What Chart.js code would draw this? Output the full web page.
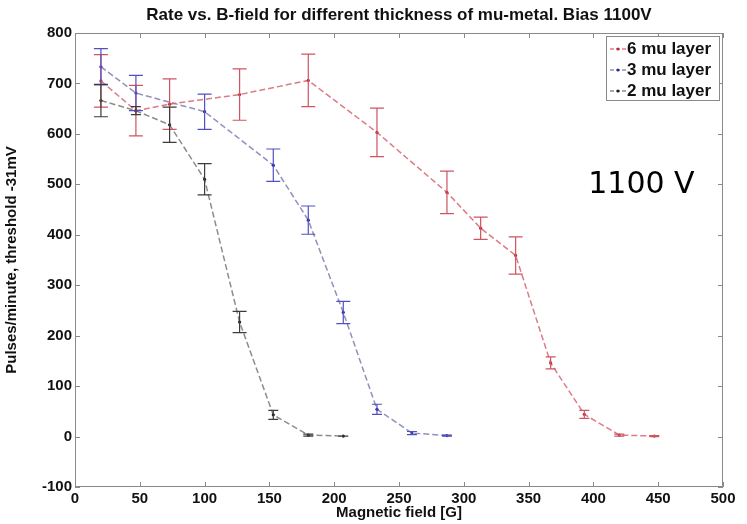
<!DOCTYPE html>
<html lang="en">
<head>
    <meta charset="UTF-8">
    <title>Rate vs. B-field</title>
    <script src="https://cdn.jsdelivr.net/npm/chart.js"></script>
    <style>
        html, body { margin: 0; padding: 0; background: white; }
        #wrap { width: 747px; height: 524px; }
    </style>
</head>
<body>
<div id="wrap"><canvas id="chart"></canvas></div>
<script>
// magnetic field [G] and rates for each mu-metal thickness
const field6 = [20, 47, 73, 127, 180, 233, 287, 313, 340, 367, 393, 420, 447];
const rate6  = [705, 646, 659, 678, 706, 603, 484, 413, 359, 146, 44, 3, 1];
const err6   = [52, 50, 50, 51, 52, 48, 42, 22, 37, 12, 8, 2, 1];

const field3 = [20, 47, 100, 153, 180, 207, 233, 260, 287];
const rate3  = [733, 681, 644, 538, 429, 246, 54, 7, 2];
const err3   = [36, 35, 35, 32, 28, 22, 10, 3, 1];

const field2 = [20, 47, 73, 100, 127, 153, 180, 207];
const rate2  = [666, 646, 618, 510, 227, 43, 3, 1];
const err2   = [32, 8, 35, 31, 21, 9, 2, 0];

const seriesNames = ['6 mu layer', '3 mu layer', '2 mu layer'];
const xTicks = [0, 50, 100, 150, 200, 250, 300, 350, 400, 450, 500];
const yTicks = [-100, 0, 100, 200, 300, 400, 500, 600, 700, 800];

const FONT = "'Liberation Sans', Arial, Helvetica, sans-serif";

function pts(xs, ys) {
    return xs.map((x, i) => ({ x: x, y: ys[i] }));
}

// error bars, drawn through the scales
const errorBars = {
    id: 'errorBars',
    afterDatasetsDraw(chart) {
        const ctx = chart.ctx;
        const xs = chart.scales.x, ys = chart.scales.y;
        chart.data.datasets.forEach(ds => {
            ctx.save();
            ctx.strokeStyle = ds.errColor;
            ctx.lineWidth = 1.2;
            ds.data.forEach((p, i) => {
                const e = ds.errors[i];
                const px = xs.getPixelForValue(p.x);
                const top = ys.getPixelForValue(p.y + e);
                const bot = ys.getPixelForValue(p.y - e);
                const cap = e > 15 ? 7 : 5;
                ctx.beginPath();
                ctx.moveTo(px, top); ctx.lineTo(px, bot);
                ctx.moveTo(px - cap, top); ctx.lineTo(px + cap, top);
                ctx.moveTo(px - cap, bot); ctx.lineTo(px + cap, bot);
                ctx.stroke();
            });
            ctx.restore();
        });
    }
};

// matlab style box with inward ticks, legend box and the 1100 V note
const frame = {
    id: 'frame',
    afterDraw(chart) {
        const ctx = chart.ctx;
        const a = chart.chartArea;
        const xs = chart.scales.x, ys = chart.scales.y;
        ctx.save();
        ctx.strokeStyle = '#8a8a8a';
        ctx.lineWidth = 1;
        ctx.strokeRect(a.left + 0.5, a.top + 0.5, a.right - a.left - 1, a.bottom - a.top - 1);
        ctx.beginPath();
        xTicks.forEach(v => {
            const px = Math.round(xs.getPixelForValue(v)) + 0.5;
            ctx.moveTo(px, a.bottom); ctx.lineTo(px, a.bottom - 5);
            ctx.moveTo(px, a.top); ctx.lineTo(px, a.top + 5);
        });
        yTicks.forEach(v => {
            const py = Math.round(ys.getPixelForValue(v)) + 0.5;
            ctx.moveTo(a.left, py); ctx.lineTo(a.left + 5, py);
            ctx.moveTo(a.right, py); ctx.lineTo(a.right - 5, py);
        });
        ctx.stroke();

        // legend
        const lx = a.right - 117, ly = a.top + 3, lw = 113, lh = 64;
        ctx.fillStyle = 'white';
        ctx.fillRect(lx, ly, lw, lh);
        ctx.strokeStyle = '#8a8a8a';
        ctx.strokeRect(lx + 0.5, ly + 0.5, lw, lh);
        ctx.font = 'bold 17px ' + FONT;
        ctx.textBaseline = 'middle';
        chart.data.datasets.forEach((ds, i) => {
            const ry = ly + 13 + i * 21;
            ctx.strokeStyle = ds.borderColor;
            ctx.lineWidth = 1.3;
            ctx.setLineDash([4, 2]);
            ctx.beginPath();
            ctx.moveTo(lx + 4, ry); ctx.lineTo(lx + 21, ry);
            ctx.stroke();
            ctx.setLineDash([]);
            ctx.fillStyle = ds.pointBackgroundColor;
            ctx.beginPath();
            ctx.arc(lx + 12, ry, 1.5, 0, Math.PI * 2);
            ctx.fill();
            ctx.fillStyle = '#111';
            ctx.fillText(ds.label, lx + 21, ry);
        });

        // bias note, anchored in data coordinates
        ctx.font = "30px 'DejaVu Sans', Verdana, sans-serif";
        ctx.fillStyle = '#000';
        ctx.textBaseline = 'alphabetic';
        ctx.fillText('1100 V', xs.getPixelForValue(396), ys.getPixelForValue(483));
        ctx.restore();
    }
};

function series(label, xsArr, ysArr, errs, line, mark, errColor) {
    return {
        label: label,
        data: pts(xsArr, ysArr),
        errors: errs,
        errColor: errColor,
        borderColor: line,
        borderWidth: 1.5,
        borderDash: [6, 3],
        pointRadius: 1.6,
        pointBackgroundColor: mark,
        pointBorderColor: mark,
        pointBorderWidth: 0,
        fill: false,
        tension: 0
    };
}

new Chart(document.getElementById('chart'), {
    type: 'line',
    data: {
        datasets: [
            series(seriesNames[0], field6, rate6, err6, 'rgba(214,100,112,0.85)', 'rgb(190,40,50)', 'rgb(206,84,96)'),
            series(seriesNames[1], field3, rate3, err3, 'rgba(125,125,175,0.85)', 'rgb(40,40,170)', 'rgb(80,80,195)'),
            series(seriesNames[2], field2, rate2, err2, 'rgba(120,120,120,0.85)', 'rgb(30,30,30)', 'rgb(60,60,60)')
        ]
    },
    options: {
        responsive: true,
        maintainAspectRatio: false,
        animation: false,
        layout: { padding: { left: 0, right: 24, top: 0, bottom: 0 } },
        plugins: {
            legend: { display: false },
            tooltip: { enabled: false },
            title: {
                display: true,
                fullSize: false,
                text: 'Rate vs. B-field for different thickness of mu-metal. Bias 1100V',
                color: '#111',
                font: { family: FONT, size: 17, weight: 'bold' },
                padding: { top: 5, bottom: 7.6 }
            }
        },
        scales: {
            x: {
                type: 'linear',
                min: 0, max: 500,
                afterBuildTicks: s => { s.ticks = xTicks.map(v => ({ value: v })); },
                afterFit: s => { s.height = 37; },
                grid: { display: false, drawTicks: false },
                border: { display: false },
                ticks: { color: '#111', padding: 3, font: { family: FONT, size: 15, weight: 'bold' } },
                title: {
                    display: true, text: 'Magnetic field [G]', color: '#111',
                    font: { family: FONT, size: 15, weight: 'bold' },
                    padding: { top: 0, bottom: 2 }
                }
            },
            y: {
                min: -100, max: 800,
                afterBuildTicks: s => { s.ticks = yTicks.map(v => ({ value: v })); },
                afterFit: s => { s.width = 75; },
                grid: { display: false, drawTicks: false },
                border: { display: false },
                ticks: { color: '#111', padding: 3, font: { family: FONT, size: 15, weight: 'bold' } },
                title: {
                    display: true, text: 'Pulses/minute, threshold -31mV', color: '#111',
                    font: { family: FONT, size: 15, weight: 'bold' },
                    padding: { top: 3, bottom: 0 }
                }
            }
        }
    },
    plugins: [errorBars, frame]
});
</script>
</body>
</html>
